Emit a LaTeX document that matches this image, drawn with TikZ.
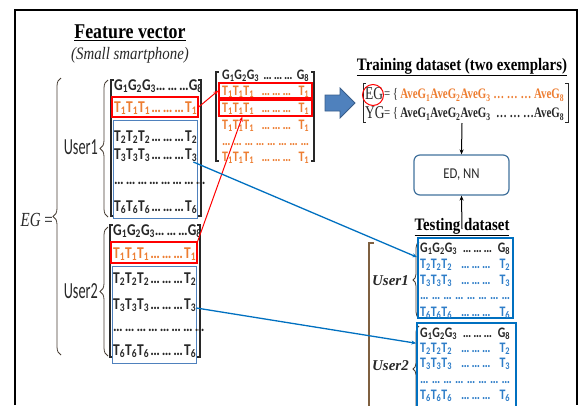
\documentclass[tikz,border=0pt]{standalone}
\usepackage{fontspec}
\setmainfont{Liberation Serif}
\newfontfamily\serifN{Liberation Serif}[FakeStretch=0.85]
\newfontfamily\serifC{Liberation Serif}[FakeStretch=0.75]
\newfontfamily\calM{Carlito}[FakeStretch=0.82]
\newfontfamily\calN{Carlito}[FakeStretch=0.85]
\newfontfamily\calL{Carlito}[FakeStretch=0.62]
\usetikzlibrary{decorations.pathreplacing,arrows.meta,calc}
\definecolor{orng}{RGB}{237,125,49}
\definecolor{tblue}{RGB}{46,125,200}
\definecolor{bbox}{RGB}{79,129,189}
\definecolor{tbox}{RGB}{0,112,192}
\definecolor{brc}{RGB}{70,60,50}
\definecolor{brwn}{RGB}{127,96,64}
\definecolor{arrfill}{RGB}{79,129,189}
\definecolor{arrdraw}{RGB}{56,93,138}
\definecolor{edbox}{RGB}{65,113,156}
\definecolor{txt}{RGB}{40,40,40}
\newcommand\gs[2]{#1\textsubscript{#2}}
\newcommand\mrow[3]{\makebox[#1][l]{#2\hfill…\hspace{2pt}…\hspace{2pt}…\hfill#3}}
\newcommand\drow[1]{\makebox[#1][s]{…\ …\ …\ …\ …\ …\ …\ …}}
\newcommand\Grow[1]{\mrow{#1}{\gs G1\gs G2\gs G3}{\gs G8}}
\newcommand\Trow[2]{\mrow{#1}{\gs T{#2}\gs T{#2}\gs T{#2}}{\gs T{#2}}}
\tikzset{
  mat/.style={anchor=west,inner sep=0pt,text=txt,font=\calM\bfseries\fontsize{16.5}{18}\selectfont},
  midm/.style={mat,font=\calM\bfseries\fontsize{14.5}{16}\selectfont},
  tstm/.style={mat,font=\calM\bfseries\fontsize{14.5}{16}\selectfont},
  brk/.style={line width=1.1pt,draw=txt},
  curly/.style={decorate,decoration={brace,amplitude=#1},draw=brc,line width=0.8pt},
  rbox/.style={draw=red,line width=1.3pt,inner sep=0pt},
  fbbox/.style={draw=bbox,line width=1pt,inner sep=0pt,anchor=north west},
  tbbox/.style={draw=tbox,line width=1.5pt,inner sep=0pt},
  ttl/.style={font=\serifN\bfseries\fontsize{17.5}{20}\selectfont,text=black,inner sep=0pt},
  redarr/.style={draw=red,line width=1pt,-{Stealth[length=5pt,width=4pt]}},
  bluearr/.style={draw=tbox,line width=1.3pt,-{Stealth[length=5pt,width=4pt]}},
  blkarr/.style={draw=black,line width=1pt,-{Stealth[length=5pt,width=4pt]}},
  avg/.style={font=\serifC\fontsize{14.5}{16}\selectfont,anchor=west,inner sep=0pt,text=txt},
  egname/.style={font=\serifC\fontsize{18}{20}\selectfont,anchor=west,inner sep=0pt,text=txt},
}
\begin{document}
\begin{tikzpicture}[x=1pt,y=-1pt]
\useasboundingbox (0,0) rectangle (581,405);
% frame
\draw[line width=2pt] (15,405) -- (15,10) -- (577,10) -- (577,405);

% titles
\node[font=\serifN\bfseries\fontsize{21}{24}\selectfont,inner sep=0pt] (fvt) at (130,33) {\underline{Feature vector}};
\node[font=\serifN\itshape\fontsize{17.5}{20}\selectfont,text=txt,inner sep=0pt] (fvs) at (130,55) {(Small smartphone)};

% EG = and big brace
\node[font=\serifC\fontsize{20}{22}\selectfont,anchor=east,inner sep=0pt,text=txt] (egeq) at (53,220) {\textit{EG} =};
\draw[curly=8pt] (61,355) -- (61,78);

% User labels
\node[font=\calL\fontsize{23}{25}\selectfont,anchor=east,inner sep=0pt,text=txt] (u1l) at (98,147) {User1};
\node[font=\calL\fontsize{23}{25}\selectfont,anchor=east,inner sep=0pt,text=txt] (u2l) at (98,291) {User2};
\draw[curly=8pt] (108,217) -- (108,80);
\draw[curly=8pt] (108,356) -- (108,227);

% ===== User1 matrix
\draw[brk] (114,80) -| (111,216) -- (114,216);
\draw[brk] (198,80) -| (201,216) -- (198,216);
\node[rbox,minimum width=86pt,minimum height=20pt] (u1red) at (155,107) {};
\node[fbbox,minimum width=84pt,minimum height=98pt] (u1blue) at (113,120) {};
\node[mat] (u1g) at (114,86) {\Grow{83pt}};
\node[mat,text=orng] (u1t1) at (114,108) {\Trow{83pt}{1}};
\node[mat] (u1t2) at (114,137) {\Trow{83pt}{2}};
\node[mat] (u1t3) at (114,155) {\Trow{83pt}{3}};
\node[mat] (u1d) at (114,183) {\drow{83pt}};
\node[mat] (u1t6) at (114,207) {\Trow{83pt}{6}};

% ===== User2 matrix
\draw[brk] (113,225) -| (110,357) -- (113,357);
\draw[brk] (197,225) -| (200,357) -- (197,357);
\node[rbox,minimum width=86pt,minimum height=21pt] (u2red) at (154,252.5) {};
\node[fbbox,minimum width=84pt,minimum height=97pt] (u2blue) at (112,266) {};
\node[mat] (u2g) at (113,231) {\Grow{83pt}};
\node[mat,text=orng] (u2t1) at (113,254) {\Trow{83pt}{1}};
\node[mat] (u2t2) at (113,279) {\Trow{83pt}{2}};
\node[mat] (u2t3) at (113,305) {\Trow{83pt}{3}};
\node[mat] (u2d) at (113,330) {\drow{83pt}};
\node[mat] (u2t6) at (113,351) {\Trow{83pt}{6}};

% ===== middle matrix
\draw[brk] (219,72) -| (216,161) -- (219,161);
\draw[brk] (311,72) -| (314,161) -- (311,161);
\node[rbox,minimum width=93pt,minimum height=15pt] (m1red) at (265.5,90.5) {};
\node[rbox,minimum width=93pt,minimum height=16pt] (m2red) at (265.5,108) {};
\node[midm] (mg) at (222,76) {\Grow{87pt}};
\node[midm,text=orng] (mt1) at (222,91.5) {\Trow{87pt}{1}};
\node[midm,text=orng] (mt2) at (222,108.5) {\Trow{87pt}{1}};
\node[midm,text=orng] (mt3) at (222,126) {\Trow{87pt}{1}};
\node[midm,text=orng] (md) at (222,145) {\drow{87pt}};
\node[midm,text=orng] (mt4) at (222,158) {\Trow{87pt}{1}};

% red connectors
\draw[redarr] (u1red.east) -- (m1red.west);
\draw[redarr] (u2red.north east) -- ($(m2red.south west)+(24,0)$);

% big block arrow
\draw[fill=arrfill,draw=arrdraw,line width=0.8pt] (325,95) -- (340,95) -- (340,88) -- (355,103) -- (340,118) -- (340,111) -- (325,111) -- cycle;

% ===== training dataset
\node[ttl] (trt) at (462,67) {\underline{Training dataset (two exemplars)}};
\draw[brk,line width=0.9pt] (366,83) -| (363,122) -- (366,122);
\draw[brk,line width=0.9pt] (565,83) -| (568,122) -- (565,122);
\node[egname] (egl) at (365,94) {EG};
\node[avg] (egr) at (384,95) {\makebox[180pt][l]{=\,\{\,\textcolor{orng}{\bfseries\gs{AveG}1\gs{AveG}2\gs{AveG}3\hfill…\ …\ …\hfill\gs{AveG}8}}};
\node[egname] (ygl) at (365,113) {YG};
\node[avg] (ygr) at (384,114) {\makebox[180pt][l]{=\,\{\,{\bfseries\gs{AveG}1\gs{AveG}2\gs{AveG}3\hfill…\ …\ …\gs{AveG}8}}};
\node[draw=red,circle,line width=1pt,minimum size=21pt,inner sep=0pt] (egc) at (373,95) {};

% ED, NN
\node[draw=edbox,line width=1.2pt,rounded corners=6pt,minimum width=95pt,minimum height=40pt,text=txt,font=\calN\fontsize{15}{17}\selectfont] (ed) at (461.5,175) {ED, NN};
\coordinate (trbot) at (462,123);
\draw[blkarr] (trbot) -- (ed.north);

% ===== testing dataset
\node[ttl] (tst) at (462,227) {\underline{Testing dataset}};
\coordinate (tstop) at (462,229);
\draw[blkarr] (tstop) -- (ed.south);
\draw[draw=brwn,line width=1.2pt] (374,243) -| (369,410);
\node[font=\bfseries\itshape\fontsize{15}{17}\selectfont,anchor=east,inner sep=0pt,text=txt] (tu1) at (409,281) {User1};
\node[font=\bfseries\itshape\fontsize{15}{17}\selectfont,anchor=east,inner sep=0pt,text=txt] (tu2) at (409,366) {User2};
\draw[curly=6pt] (419,318) -- (419,242);
\draw[curly=6pt] (419,412) -- (419,326);
\node[tbbox,minimum width=95pt,minimum height=80pt] (tb1) at (465.5,278) {};
\node[tbbox,minimum width=99pt,minimum height=89pt] (tb2) at (466.5,367.5) {};
\node[tstm] (t1g) at (420,249) {\Grow{90pt}};
\node[tstm,text=tblue] (t1t2) at (420,265) {\Trow{90pt}{2}};
\node[tstm,text=tblue] (t1t3) at (420,281) {\Trow{90pt}{3}};
\node[tstm,text=tblue] (t1d) at (420,299) {\drow{90pt}};
\node[tstm,text=tblue] (t1t6) at (420,313) {\Trow{90pt}{6}};
\node[tstm] (t2g) at (420,334) {\Grow{90pt}};
\node[tstm,text=tblue] (t2t2) at (420,349) {\Trow{90pt}{2}};
\node[tstm,text=tblue] (t2t3) at (420,364) {\Trow{90pt}{3}};
\node[tstm,text=tblue] (t2d) at (420,383) {\drow{90pt}};
\node[tstm,text=tblue] (t2t6) at (420,396) {\Trow{90pt}{6}};

% blue connectors
\draw[bluearr] ($(u1t3.east)+(-4,7)$) -- ($(tb1.north west)+(0,20)$);
\draw[bluearr] ($(u2t3.east)+(0,3)$) -- ($(tb2.north west)+(0,21)$);
\end{tikzpicture}
\end{document}
